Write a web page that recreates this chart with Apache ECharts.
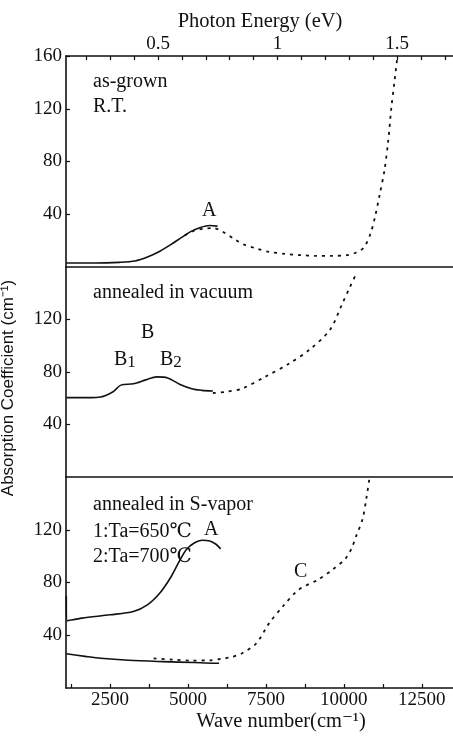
<!DOCTYPE html>
<html>
<head>
<meta charset="utf-8">
<script src="https://cdn.jsdelivr.net/npm/echarts@6/dist/echarts.min.js"></script>
<style>
  html, body { margin: 0; padding: 0; background: #fff; }
  #main { width: 453px; height: 737px; }
</style>
</head>
<body>
<div id="main"></div>
<script>
// wave number (cm-1), absorption coefficient (cm-1)
const asGrownSolid = [[1100, 3], [2000, 3], [2800, 3.5], [3300, 4.5], [3700, 7.5], [4100, 12], [4450, 17], [4800, 22.5], [5100, 27], [5400, 30], [5700, 31.5], [5950, 31]];
const asGrownDotted = [[4900, 24], [5200, 27.5], [5500, 29], [5800, 29.5], [6100, 27], [6500, 21], [6800, 17], [7200, 14], [7600, 11.5], [8100, 10], [8600, 9], [9100, 8.5], [9600, 8.5], [10100, 9], [10400, 11], [10650, 15], [10850, 25], [11000, 38], [11150, 55], [11300, 73], [11420, 95], [11520, 120], [11620, 140], [11720, 160]];

const vacuumSolid = [[1100, 60.5], [1800, 60.5], [2200, 61], [2600, 65], [2850, 70], [3250, 71], [3650, 74], [4000, 76.3], [4350, 75.5], [4750, 70.5], [5150, 67], [5450, 66], [5800, 65.5]];
const vacuumDotted = [[5800, 64], [6250, 65], [6750, 67.5], [7450, 76], [8250, 86.5], [8900, 97], [9550, 112], [9950, 132], [10200, 145], [10400, 155]];

const sVapor1 = [[1100, 70], [1130, 51], [1600, 53], [2500, 55.5], [3250, 58], [3700, 63], [4100, 72], [4450, 84], [4700, 95], [4950, 105], [5200, 110], [5450, 112], [5700, 111.5], [5900, 109], [6050, 105.5]];
const sVapor2Solid = [[1100, 26], [1700, 24], [2200, 22.5], [3100, 21], [4200, 20], [5200, 19.3], [5800, 18.8], [6000, 18.8]];
const sVapor2Dotted = [[3900, 22.5], [4500, 21.5], [5100, 20.8], [5700, 21], [6050, 22], [6400, 23.5], [6750, 26.5], [7200, 34], [7600, 49], [8050, 62], [8550, 74.5], [9200, 82.5], [9650, 90], [10050, 98], [10250, 106], [10400, 115.5], [10600, 128], [10720, 143.5], [10820, 159]];

const waveLabels = [2500, 5000, 7500, 10000, 12500];
const waveTicks = [1250, 2500, 3750, 5000, 6250, 7500, 8750, 10000, 11250, 12500];
const energyLabels = [0.5, 1, 1.5];
const energyTicks = [0.2, 0.3, 0.4, 0.5, 0.6, 0.7, 0.8, 0.9, 1, 1.1, 1.2, 1.3, 1.4, 1.5, 1.6, 1.7];
const topYLabels = [40, 80, 120, 160];
const yLabels = [40, 80, 120];

const serif = "'Liberation Serif', 'DejaVu Serif', serif";
const ink = '#111';

const chart = echarts.init(document.getElementById('main'), null, { renderer: 'canvas' });

function xAx(grid, withLabels) {
  return {
    type: 'value', gridIndex: grid, position: 'bottom', min: 1090, max: 13500,
    axisLine: { show: true, onZero: false, lineStyle: { color: ink, width: 1.6 } },
    axisTick: withLabels ? { show: true, inside: true, length: 4, customValues: waveTicks, lineStyle: { color: ink, width: 1.2 } } : { show: false },
    axisLabel: withLabels ? { show: true, customValues: waveLabels, margin: 3, color: ink, fontFamily: serif, fontSize: 19,
      formatter: v => String(v) } : { show: false },
    splitLine: { show: false }
  };
}

function yAx(grid, labels) {
  return {
    type: 'value', gridIndex: grid, min: 0, max: 160,
    axisLine: { show: true, onZero: false, lineStyle: { color: ink, width: 1.6 } },
    axisTick: { show: true, inside: true, length: 4, customValues: labels, lineStyle: { color: ink, width: 1.2 } },
    axisLabel: { show: true, customValues: labels, margin: 4, color: ink, fontFamily: serif, fontSize: 19 },
    splitLine: { show: false }
  };
}

function solid(data, xi, yi) {
  return { type: 'line', xAxisIndex: xi, yAxisIndex: yi, data: data, smooth: 0.3, symbol: 'none',
    lineStyle: { color: ink, width: 1.6 }, silent: true, animation: false };
}
function dotted(data, xi, yi) {
  return { type: 'line', xAxisIndex: xi, yAxisIndex: yi, data: data, smooth: 0.3, symbol: 'none',
    lineStyle: { color: ink, width: 1.8, type: [3, 5] }, silent: true, animation: false };
}

function txt(x, y, s, size, align) {
  return {
    type: 'text', x: x, y: y, silent: true,
    style: { text: s, fill: ink, font: (size || 20) + 'px ' + serif, textAlign: align || 'left', textVerticalAlign: 'middle' }
  };
}

function subLabel(x, y, main, sub) {
  return {
    type: 'text', x: x, y: y, silent: true,
    style: { text: '{b|' + main + '}{s|' + sub + '}', fill: ink, textVerticalAlign: 'middle',
      rich: { b: { fontFamily: serif, fontSize: 20, fill: ink }, s: { fontFamily: serif, fontSize: 17, fill: ink, padding: [5, 0, 0, 0] } } }
  };
}

const option = {
  animation: false,
  backgroundColor: '#fff',
  grid: [
    { left: 66, width: 387, top: 56, height: 211 },
    { left: 66, width: 387, top: 267, height: 210 },
    { left: 66, width: 387, top: 477, height: 211 }
  ],
  xAxis: [
    xAx(0, false),
    xAx(1, false),
    xAx(2, true),
    {
      type: 'value', gridIndex: 0, position: 'top', min: 0.115, max: 1.734,
      axisLine: { show: true, onZero: false, lineStyle: { color: ink, width: 1.6 } },
      axisTick: { show: true, inside: true, length: 4, customValues: energyTicks, lineStyle: { color: ink, width: 1.2 } },
      axisLabel: { show: true, customValues: energyLabels, margin: 2, color: ink, fontFamily: serif, fontSize: 19,
        formatter: v => String(v) },
      splitLine: { show: false }
    }
  ],
  yAxis: [yAx(0, topYLabels), yAx(1, yLabels), yAx(2, yLabels)],
  series: [
    solid(asGrownSolid, 0, 0),
    dotted(asGrownDotted, 0, 0),
    solid(vacuumSolid, 1, 1),
    dotted(vacuumDotted, 1, 1),
    solid(sVapor1, 2, 2),
    solid(sVapor2Solid, 2, 2),
    dotted(sVapor2Dotted, 2, 2)
  ],
  graphic: [
    txt(260, 22, 'Photon Energy (eV)', 20.5, 'center'),
    txt(281, 722, 'Wave number(cm⁻¹)', 20.5, 'center'),
    {
      type: 'text', x: 8, y: 388, rotation: Math.PI / 2, silent: true,
      style: { text: 'Absorption Coefficient (cm⁻¹)', fill: ink, font: "17px 'Liberation Sans', Arial, sans-serif", textAlign: 'center', textVerticalAlign: 'middle' }
    },
    txt(93, 82, 'as-grown'),
    txt(93, 107, 'R.T.'),
    txt(202, 211, 'A'),
    txt(93, 293, 'annealed in vacuum'),
    txt(141, 333, 'B'),
    subLabel(114, 360, 'B', '1'),
    subLabel(160, 360, 'B', '2'),
    txt(93, 505, 'annealed in S-vapor'),
    txt(93, 532, '1:Ta=650℃'),
    txt(93, 557, '2:Ta=700℃'),
    txt(204, 530, 'A'),
    txt(294, 572, 'C')
  ]
};

chart.setOption(option);
</script>
</body>
</html>
